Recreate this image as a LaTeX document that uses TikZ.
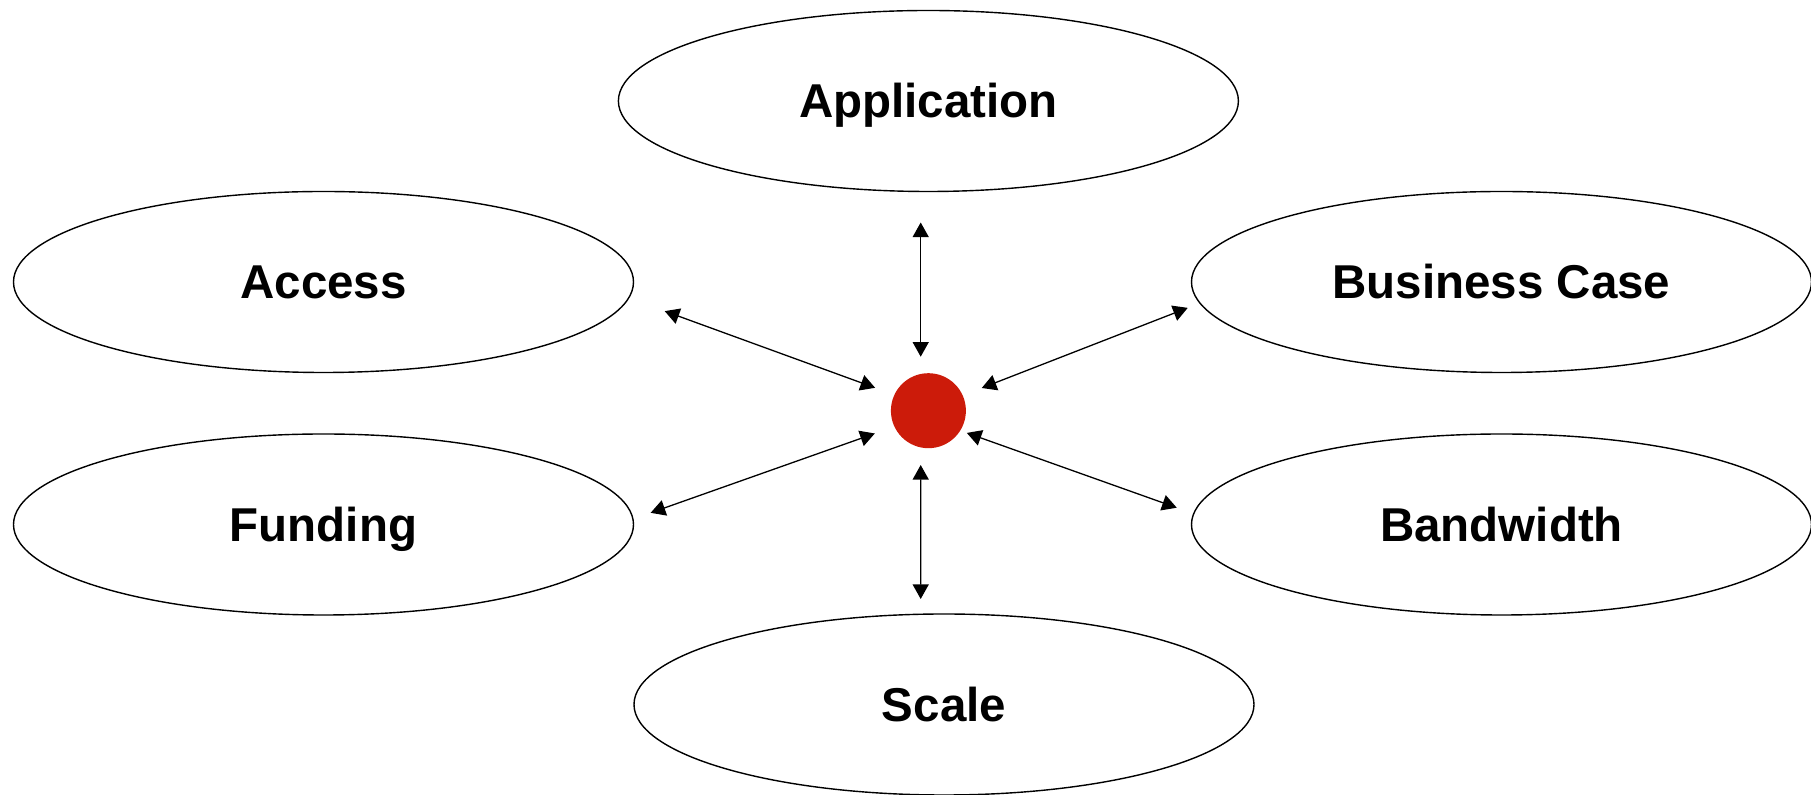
\documentclass[tikz,border=0pt]{standalone}
\usepackage{fontspec}
\setmainfont{Liberation Sans}
\usetikzlibrary{arrows.meta, shapes.geometric}
\definecolor{hubred}{RGB}{204,27,10}
\begin{document}
\begin{tikzpicture}[x=.5pt, y=-.5pt,
        bubble/.style={draw, ellipse, line width=.7pt, minimum width=310pt, minimum height=90.5pt,
            inner sep=0pt, outer sep=0pt, font=\fontsize{23.75}{28}\selectfont\bfseries,
            text height=17pt, text depth=0pt},
        link/.style={{Triangle[length=7.3pt, width=8pt]}-{Triangle[length=7.3pt, width=8pt]}, line width=.65pt}]
        \useasboundingbox (0, 0) rectangle (1811, 795);
        \node[bubble] (app) at (928.4, 101) {Application};
        \node[bubble] (acc) at (323.5, 282) {Access};
        \node[bubble] (biz) at (1501.5, 282) {Business Case};
        \node[bubble] (fund) at (323.5, 524.5) {Funding};
        \node[bubble] (band) at (1501.5, 524.5) {Bandwidth};
        \node[bubble] (scl) at (944, 704.5) {Scale};
        \node[circle, fill=hubred, minimum size=37.5pt, inner sep=0pt, outer sep=0pt] (hub) at (928.4, 410.7) {};
        \draw[link, shorten <=15.5pt, shorten >=8.25pt] ([xshift=-3.85pt]app.south) -- ([xshift=-3.85pt]hub.north);
        \draw[link, shorten <=8.4pt, shorten >=7.5pt] ([xshift=-3.85pt]hub.south) -- ([xshift=-11.65pt]scl.north);
        \draw[link, shorten <=19.2pt, shorten >=10.25pt] (acc.-3.1) -- (hub.155.8);
        \draw[link, shorten <=6.6pt, shorten >=10.25pt] (biz.184.9) -- (hub.24.2);
        \draw[link, shorten <=9.4pt, shorten >=10.4pt] (fund.1.7) -- (hub.205.3);
        \draw[link, shorten <=3.5pt, shorten >=9pt] (hub.-32.6) -- (band.178.3);
    \end{tikzpicture}
\end{document}
